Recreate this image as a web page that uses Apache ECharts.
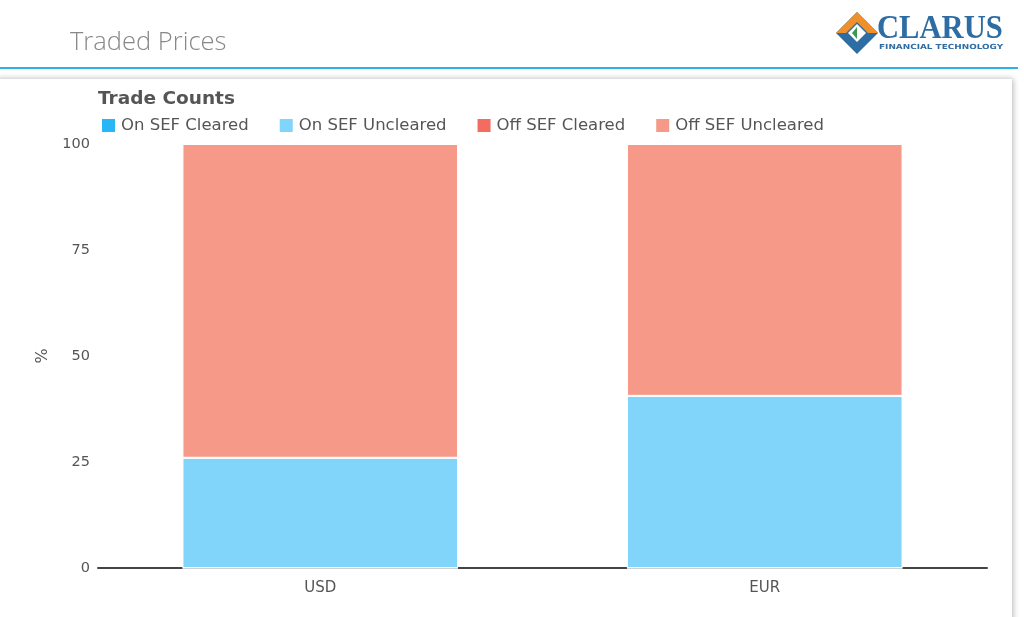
<!DOCTYPE html>
<html>
<head>
<meta charset="utf-8">
<script src="https://cdn.jsdelivr.net/npm/echarts@6/dist/echarts.min.js"></script>
<style>
html,body{margin:0;padding:0;background:#fff;width:1024px;height:617px;overflow:hidden;}
#chart{width:1024px;height:617px;}
</style>
</head>
<body>
<div id="chart"></div>
<script>
var categories = ['USD', 'EUR'];
var seriesNames = ['On SEF Cleared', 'On SEF Uncleared', 'Off SEF Cleared', 'Off SEF Uncleared'];
var onSefCleared = [0, 0];
var onSefUncleared = [26, 40.6];
var offSefCleared = [0, 0];
var offSefUncleared = [74, 59.4];
var yTicks = [0, 25, 50, 75, 100];
var colors = ['#29B6F6', '#81D4FA', '#F36C60', '#F69988'];

var chart = echarts.init(document.getElementById('chart'), null, {renderer: 'canvas'});
var data = [onSefCleared, onSefUncleared, offSefCleared, offSefUncleared];
var font = 'DejaVu Sans';

var option = {
  animation: false,
  color: colors,
  title: {
    text: 'Trade Counts',
    left: 98, top: 90, padding: 0,
    textStyle: {fontFamily: font, fontSize: 18.5, fontWeight: 'bold', color: '#555'}
  },
  legend: {
    left: 100, top: 117, padding: 0,
    icon: 'rect', itemWidth: 15, itemHeight: 15, itemGap: 29,
    data: seriesNames,
    textStyle: {fontFamily: font, fontSize: 16.5, color: '#555'}
  },
  grid: {left: 98, right: 37, top: 144, bottom: 49, containLabel: false},
  xAxis: {
    type: 'category', data: categories,
    axisLine: {lineStyle: {color: '#444', width: 2}},
    axisTick: {show: false},
    axisLabel: {fontFamily: font, fontSize: 15, color: '#555', margin: 13}
  },
  yAxis: {
    type: 'value', min: 0, max: 100, interval: 25,
    name: '%', nameLocation: 'middle', nameGap: 47, nameRotate: 90,
    nameTextStyle: {fontFamily: font, fontSize: 16, color: '#555'},
    axisLine: {show: false}, axisTick: {show: false},
    splitLine: {show: false},
    axisLabel: {fontFamily: font, fontSize: 14.5, color: '#555', margin: 8,
      formatter: function (v) { return yTicks.indexOf(v) >= 0 ? String(v) : ''; }}
  },
  series: seriesNames.map(function (n, i) {
    return {
      name: n, type: 'bar', stack: 'total', data: data[i],
      barWidth: '62%',
      itemStyle: {borderColor: '#fff', borderWidth: 1}
    };
  }),
  graphic: [
    {type: 'text', left: 70, top: 30, style: {text: 'Traded Prices', fontFamily: 'Open Sans', fontWeight: 300, fontSize: 25.5, fill: '#888'}},
    {type: 'rect', shape: {x: 0, y: 67, width: 1018, height: 2}, style: {fill: '#2BB3E8'}},
    {type: 'rect', z: -10, shape: {x: -4, y: 79, width: 1016, height: 560}, style: {fill: '#fff', shadowBlur: 6, shadowColor: 'rgba(0,0,0,0.3)', shadowOffsetX: 1}},
    {type: 'polygon', shape: {points: [[857,12],[878,33],[857,54],[836,33]]}, style: {fill: '#2E6DA4'}},
    {type: 'polygon', shape: {points: [[857,12],[878,33],[868,33],[857,22],[846,33],[836,33]]}, style: {fill: '#F0902A'}},
    {type: 'polygon', shape: {points: [[857,24],[866,33],[857,42],[848,33]]}, style: {fill: '#fff'}},
    {type: 'polygon', shape: {points: [[852,33],[857,27],[857,39]]}, style: {fill: '#3A9A4A'}},
    {type: 'text', x: 877, y: 12, scaleX: 0.9, style: {text: 'CLARUS', fontFamily: 'Liberation Serif', fontWeight: 'bold', fontSize: 34, fill: '#2E6DA4'}},
    {type: 'text', x: 879, y: 44, scaleX: 1.27, style: {text: 'FINANCIAL TECHNOLOGY', fontFamily: 'DejaVu Sans', fontWeight: 'bold', fontSize: 7, fill: '#2E6DA4'}}
  ]
};
chart.setOption(option);
</script>
</body>
</html>
